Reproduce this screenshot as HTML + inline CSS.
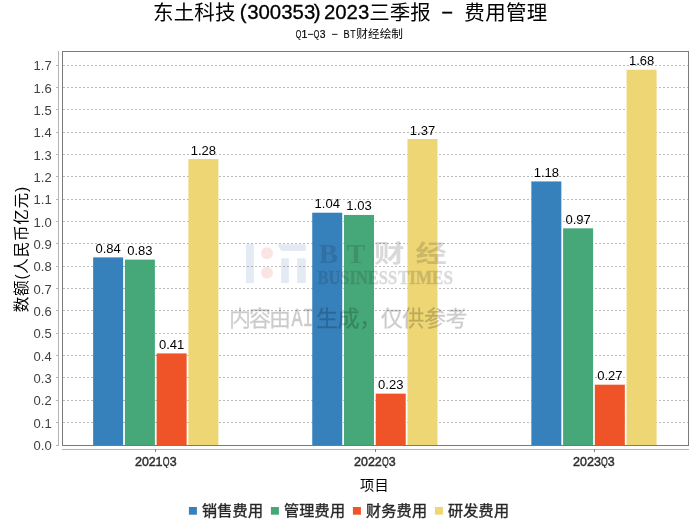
<!DOCTYPE html>
<html lang="zh"><head><meta charset="utf-8"><title>东土科技(300353)2023三季报 - 费用管理</title>
<style>
html,body{margin:0;padding:0;background:#fff;}
body{width:700px;height:524px;overflow:hidden;font-family:"Liberation Sans",sans-serif;}
svg{display:block;will-change:transform;}
text{font-family:"Liberation Sans",sans-serif;}
.tick{font-size:13px;fill:#404040;text-anchor:end;}
.val{font-size:13px;fill:#000;text-anchor:middle;}
.cat{font-size:12.6px;fill:#2e2e2e;}
.mono{font-family:"Liberation Mono",monospace;}
.serif{font-family:"Liberation Serif",serif;font-weight:bold;}
.cjk{font-family:"Liberation Sans","Noto Sans CJK SC",sans-serif;}
</style></head><body>
<svg width="700" height="524" viewBox="0 0 700 524">
<rect width="700" height="524" fill="#fff"/>
<g shape-rendering="crispEdges" fill="none">
<path d="M63 445.5H688M63 422.5H688M63 400.5H688M63 377.5H688M63 355.5H688M63 333.5H688M63 310.5H688M63 288.5H688M63 266.5H688M63 243.5H688M63 221.5H688M63 199.5H688M63 176.5H688M63 154.5H688M63 132.5H688M63 109.5H688M63 87.5H688M63 65.5H688" stroke="#bababa" stroke-width="1" stroke-dasharray="2 2"/>
</g>
<g>
<rect x="93.15" y="257.38" width="30" height="188.12" fill="#3680bc"/>
<rect x="124.89" y="259.61" width="30" height="185.89" fill="#46a878"/>
<rect x="156.63" y="353.42" width="30" height="92.08" fill="#ef5428"/>
<rect x="188.37" y="159.1" width="30" height="286.4" fill="#edd673"/>
<rect x="312.25" y="212.71" width="30" height="232.79" fill="#3680bc"/>
<rect x="343.99" y="214.94" width="30" height="230.56" fill="#46a878"/>
<rect x="375.73" y="393.63" width="30" height="51.87" fill="#ef5428"/>
<rect x="407.47" y="139" width="30" height="306.5" fill="#edd673"/>
<rect x="531.35" y="181.44" width="30" height="264.06" fill="#3680bc"/>
<rect x="563.09" y="228.34" width="30" height="217.16" fill="#46a878"/>
<rect x="594.83" y="384.69" width="30" height="60.81" fill="#ef5428"/>
<rect x="626.57" y="69.76" width="30" height="375.74" fill="#edd673"/>
</g>
<g shape-rendering="crispEdges" fill="none">
<rect x="62.5" y="51.5" width="626" height="394" stroke="#7a7a7a"/>
<path d="M58.5 51V446M56 445.5H59M56 422.5H59M56 400.5H59M56 377.5H59M56 355.5H59M56 333.5H59M56 310.5H59M56 288.5H59M56 266.5H59M56 243.5H59M56 221.5H59M56 199.5H59M56 176.5H59M56 154.5H59M56 132.5H59M56 109.5H59M56 87.5H59M56 65.5H59M62 449.5H689" stroke="#b4b4b4"/>
<path d="M155.5 449V452M375.5 449V452M594.5 449V452" stroke="#808080"/>
</g>
<g class="tick">
<text x="51.7" y="449.9">0.0</text>
<text x="51.7" y="427.56">0.1</text>
<text x="51.7" y="405.23">0.2</text>
<text x="51.7" y="382.89">0.3</text>
<text x="51.7" y="360.56">0.4</text>
<text x="51.7" y="338.22">0.5</text>
<text x="51.7" y="315.89">0.6</text>
<text x="51.7" y="293.55">0.7</text>
<text x="51.7" y="271.22">0.8</text>
<text x="51.7" y="248.88">0.9</text>
<text x="51.7" y="226.54">1.0</text>
<text x="51.7" y="204.21">1.1</text>
<text x="51.7" y="181.87">1.2</text>
<text x="51.7" y="159.54">1.3</text>
<text x="51.7" y="137.2">1.4</text>
<text x="51.7" y="114.87">1.5</text>
<text x="51.7" y="92.53">1.6</text>
<text x="51.7" y="70.19">1.7</text>
</g>
<g class="val">
<text x="108.15" y="252.88">0.84</text>
<text x="139.89" y="255.11">0.83</text>
<text x="171.63" y="348.92">0.41</text>
<text x="203.37" y="154.6">1.28</text>
<text x="327.25" y="208.21">1.04</text>
<text x="358.99" y="210.44">1.03</text>
<text x="390.73" y="389.13">0.23</text>
<text x="422.47" y="134.5">1.37</text>
<text x="546.35" y="176.94">1.18</text>
<text x="578.09" y="223.84">0.97</text>
<text x="609.83" y="380.19">0.27</text>
<text x="641.57" y="65.26">1.68</text>
</g>
<clipPath id="qc"><rect x="0" y="450" width="700" height="18.1"/></clipPath>
<g class="cat" aria-label="categories" stroke="#2e2e2e" stroke-width="0.45" clip-path="url(#qc)">
<text x="134.92" y="466.2">2</text>
<text transform="translate(141.92 466.2) scale(0.98 1)">0</text>
<text x="148.78" y="466.2">2</text>
<text x="155.54" y="466.2">1</text>
<text transform="translate(162.79 466.2) scale(0.69 1)">Q</text>
<text transform="translate(169.65 466.2) scale(0.99 1)">3</text>
<text x="354.02" y="466.2">2</text>
<text transform="translate(361.02 466.2) scale(0.98 1)">0</text>
<text x="367.88" y="466.2">2</text>
<text x="374.81" y="466.2">2</text>
<text transform="translate(381.89 466.2) scale(0.69 1)">Q</text>
<text transform="translate(388.75 466.2) scale(0.99 1)">3</text>
<text x="573.12" y="466.2">2</text>
<text transform="translate(580.12 466.2) scale(0.98 1)">0</text>
<text x="586.98" y="466.2">2</text>
<text transform="translate(593.99 466.2) scale(0.99 1)">3</text>
<text transform="translate(600.99 466.2) scale(0.69 1)">Q</text>
<text transform="translate(607.85 466.2) scale(0.99 1)">3</text>
</g>
<g aria-label="title">
<g class="cjk" font-size="20.5" fill="#000">
<text class="cjk" x="153" y="20.2" textLength="82.5" lengthAdjust="spacing">东土科技</text>
<text class="cjk" x="369.2" y="20.2" textLength="61.5" lengthAdjust="spacing">三季报</text>
<text class="cjk" x="464.3" y="20.2" textLength="83" lengthAdjust="spacing">费用管理</text>
</g>
<g font-size="20.4" fill="#000" stroke="#000" stroke-width="0.3">
<text x="239.8" y="19.4">(</text><text x="247.2" y="19.4">300353</text><text x="313.7" y="19.4">)</text><text x="323.9" y="19.4">2023</text>
</g>
<rect x="442.2" y="11.7" width="10" height="1.9" fill="#000"/>
</g>
<g aria-label="subtitle" font-size="11.4" fill="#000">
<text transform="translate(295.77 37.7) scale(0.63 1)" stroke="#000" stroke-width="0.15">Q</text>
<text x="301.26" y="37.7" stroke="#000" stroke-width="0.15">1</text>
<rect x="307.96" y="33.87" width="5.43" height="0.9"/>
<text transform="translate(313.86 37.7) scale(0.63 1)" stroke="#000" stroke-width="0.15">Q</text>
<text transform="translate(319.83 37.7) scale(0.91 1)" stroke="#000" stroke-width="0.15">3</text>
<rect x="332.08" y="33.87" width="5.43" height="0.9"/>
<text transform="translate(343.58 37.7) scale(0.81 1)" stroke="#000" stroke-width="0.15">B</text>
<text transform="translate(350.19 37.7) scale(0.76 1)" stroke="#000" stroke-width="0.15">T</text>
<text class="cjk" x="356.3" y="38.1" font-size="11.7" textLength="46.7" lengthAdjust="spacing">财经绘制</text>
</g>
<g aria-label="项目">
<text class="cjk" x="360" y="490.2" font-size="14.2" fill="#000" textLength="28.6" lengthAdjust="spacing">项目</text>
</g>
<g aria-label="数额(人民币亿元)">
<text class="cjk" transform="translate(26.8 312.2) rotate(-90)" font-size="15.6" fill="#000" textLength="125.3" lengthAdjust="spacing">数额(人民币亿元)</text>
</g>
<g aria-label="legend">
<rect x="188.9" y="507" width="8" height="7.7" fill="#3680bc"/>
<rect x="270.9" y="507" width="8" height="7.7" fill="#46a878"/>
<rect x="352.9" y="507" width="8" height="7.7" fill="#ef5428"/>
<rect x="434.9" y="507" width="8" height="7.7" fill="#edd673"/>
<g class="cjk" font-size="15.1" fill="#262626" stroke="#262626" stroke-width="0.35">
<text class="cjk" x="202" y="516" textLength="61" lengthAdjust="spacing">销售费用</text>
<text class="cjk" x="284" y="516" textLength="61" lengthAdjust="spacing">管理费用</text>
<text class="cjk" x="366" y="516" textLength="61" lengthAdjust="spacing">财务费用</text>
<text class="cjk" x="448" y="516" textLength="61" lengthAdjust="spacing">研发费用</text>
</g>
</g>
<g aria-label="watermark">
<g opacity="0.13">
<rect x="246" y="243.8" width="7.9" height="39.3" fill="#3464a8"/>
<circle cx="267" cy="253.2" r="6" fill="#e23a3a"/>
<circle cx="267" cy="272.8" r="6" fill="#e23a3a"/>
<path d="M277.2 244.2H305.8V250.9H281.3ZM281.2 258.3H288.9V283.1H281.2ZM297.1 258.3H305.8V283.1H297.1Z" fill="#3464a8"/>
</g>
<g opacity="0.17" fill="#22262c">
<text class="serif" x="319.1" y="262.8" font-size="28.3">B</text>
<text class="serif" x="346.4" y="262.8" font-size="28.3">T</text>
<text class="cjk" x="374" y="262" font-size="24" font-weight="bold" textLength="30.5" lengthAdjust="spacingAndGlyphs">财</text>
<text class="cjk" x="415.5" y="262" font-size="24" font-weight="bold" textLength="31.3" lengthAdjust="spacingAndGlyphs">经</text>
<text class="serif" x="317.5" y="284.4" font-size="18.6" stroke="#22262c" stroke-width="0.45" textLength="79.6" lengthAdjust="spacingAndGlyphs">BUSINESS</text>
<text class="serif" x="397.9" y="284.4" font-size="18.6" stroke="#22262c" stroke-width="0.45" textLength="55.0" lengthAdjust="spacingAndGlyphs">TIMES</text>
</g>
<g opacity="0.2" fill="#000" stroke="#000" stroke-width="0.3">
<text class="cjk" x="229" y="326" font-size="22" textLength="62" lengthAdjust="spacing">内容由</text>
<text class="cjk" x="316" y="326" font-size="22" textLength="151.5" lengthAdjust="spacing">生成，仅供参考</text>
<text class="mono" transform="translate(291.6 326) scale(0.69 1)" font-size="26.6" stroke-width="0.6">AI</text>
</g>
</g>
</svg>
</body></html>
